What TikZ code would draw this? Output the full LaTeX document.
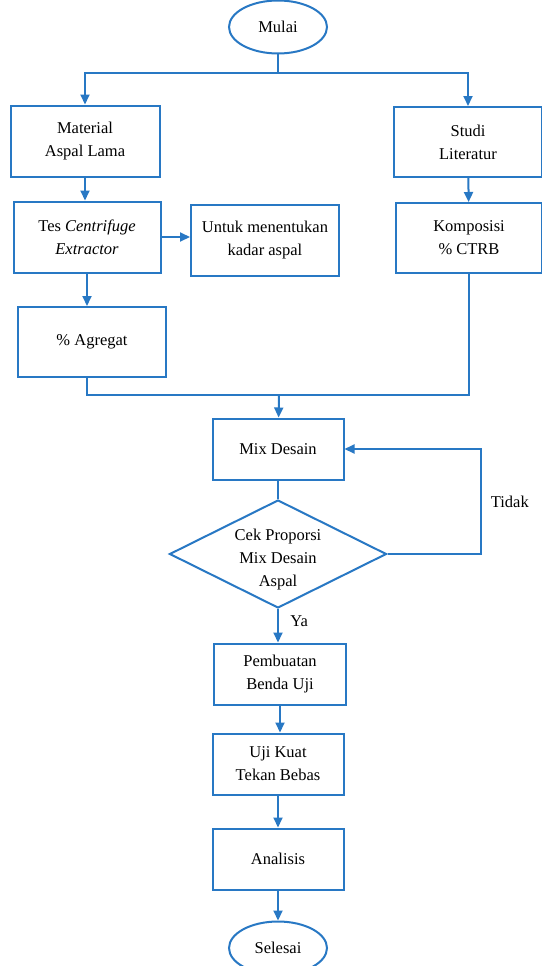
\documentclass[tikz,border=0pt]{standalone}
\usepackage{fontspec}
\setmainfont{Liberation Serif}
\usetikzlibrary{positioning, shapes.geometric, arrows.meta}

\definecolor{flowblue}{RGB}{40,120,196}

\tikzset{
    box/.style={shape=rectangle, draw=flowblue, line width=2pt, fill=white, align=center,
        font=\fontsize{16.5pt}{23pt}\selectfont, inner sep=2pt},
    terminal/.style={shape=ellipse, draw=flowblue, line width=2pt, fill=white,
        font=\fontsize{16.5pt}{23pt}\selectfont, inner sep=0pt, minimum width=98pt, minimum height=53pt},
    decision/.style={shape=diamond, draw=flowblue, line width=2pt, fill=white,
        inner sep=0pt, minimum width=217pt, minimum height=108pt},
    link/.style={draw=flowblue, line width=2pt},
    flow/.style={link, -{Triangle[length=10pt, width=9pt]}}
}

\begin{document}
\begin{tikzpicture}[x=1pt, y=-1pt]
    \fill[white] (0, 0) rectangle (541, 966);
    \useasboundingbox (0, 0) rectangle (541, 966);

    \node[terminal] (mulai) at (278, 27) {Mulai};
    \node[box, minimum width=149pt, minimum height=71pt] (material) at (85, 141) {Material\\Aspal Lama};
    \node[box, minimum width=148pt, minimum height=70pt] (studi) at (468, 142) {Studi\\Literatur};
    \node[box, minimum width=147pt, minimum height=71pt] (tes) at (87, 237) {Tes \textit{Centrifuge}\\\textit{Extractor}};
    \node[box, minimum width=148pt, minimum height=71pt] (untuk) at (265, 240) {Untuk menentukan\\kadar aspal};
    \node[box, minimum width=146pt, minimum height=70pt] (komposisi) at (469, 238) {Komposisi\\\% CTRB};
    \node[box, minimum width=148pt, minimum height=70pt] (agregat) at (92, 342) {\% Agregat};
    \node[box, minimum width=131pt, minimum height=61pt] (mix) at (278, 449) {Mix Desain};
    \node[decision, label={[align=center, yshift=-6pt, font=\fontsize{16.5pt}{23pt}\selectfont]center:Cek Proporsi\\Mix Desain\\Aspal}] (cek) at (278, 554) {};
    \node[box, minimum width=132pt, minimum height=61pt] (buat) at (280, 674) {Pembuatan\\Benda Uji};
    \node[box, minimum width=131pt, minimum height=61pt] (uji) at (278, 764) {Uji Kuat\\Tekan Bebas};
    \node[box, minimum width=131pt, minimum height=61pt] (analisis) at (278, 859) {Analisis};
    \node[terminal] (selesai) at (278, 948) {Selesai};

    \coordinate (split) at (278, 73);
    \coordinate (merge) at (279, 395);

    \draw[link] (mulai) -- (split);
    \draw[flow] (split) -| (material);
    \draw[flow] (split) -| (studi);

    \draw[flow] (material.south) -- (material.south |- tes.north);
    \draw[flow] (tes.east) -- (untuk.west |- tes.east);
    \draw[flow] (tes.south) -- (tes.south |- agregat.north);
    \draw[flow] (studi) -- (komposisi);

    \draw[link] (agregat.south -| tes) |- (merge) -| (komposisi.south);
    \draw[flow] (merge) -- (mix);

    \draw[link] (mix) -- (cek);
    \draw[flow] (cek.east) -- ++(93, 0) |- node[pos=0.25, right=6pt, font=\fontsize{16.5pt}{23pt}\selectfont] {Tidak} (mix.east);
    \draw[flow] (cek.south) -- node[pos=0.35, right=8pt, font=\fontsize{16.5pt}{23pt}\selectfont] {Ya} (cek.south |- buat.north);

    \draw[flow] (buat.south) -- (buat.south |- uji.north);
    \draw[flow] (uji) -- (analisis);
    \draw[flow] (analisis) -- (selesai);
\end{tikzpicture}
\end{document}
